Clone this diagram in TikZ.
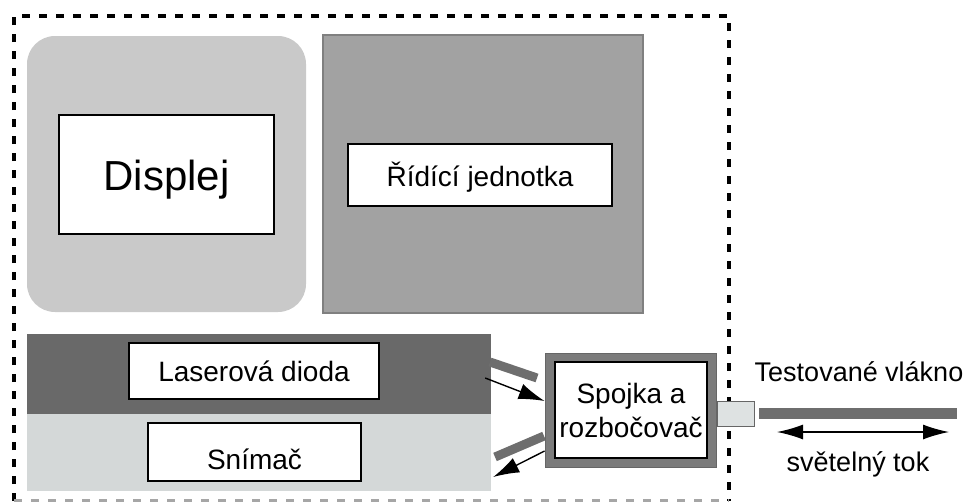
\documentclass[tikz,border=0pt]{standalone}
\usepackage{fontspec}
\setmainfont{Liberation Sans}
\usetikzlibrary{arrows.meta}
\definecolor{dispgray}{HTML}{C9C9C9}
\definecolor{ctrlgray}{HTML}{A2A2A2}
\definecolor{ctrledge}{HTML}{808080}
\definecolor{lasergray}{HTML}{696969}
\definecolor{sensgray}{HTML}{D4D8D8}
\definecolor{couplergray}{HTML}{7B7B7B}
\definecolor{fibergray}{HTML}{6E6E6E}
\definecolor{connfill}{HTML}{DEE2E2}
\begin{document}
\begin{tikzpicture}[x=1pt,y=-1pt,
  area/.style={draw=none, inner sep=0pt, anchor=center},
  namebox/.style={draw=black, line width=2.6pt, fill=white, inner sep=0pt, anchor=center,
    text depth=0pt, font=\fontsize{28}{34}\selectfont},
  fiberbar/.style={line width=9pt, draw=fibergray, line cap=butt},
  sig/.style={-{Latex[length=26pt,width=16pt]}, line width=1.4pt},
  dbl/.style={{Latex[length=26pt,width=15pt]}-{Latex[length=26pt,width=15pt]}, line width=1.4pt},
  caption/.style={anchor=base, inner sep=0pt, font=\fontsize{27}{32}\selectfont},
]
\useasboundingbox (0,0) rectangle (966,501);

% outer dashed enclosure
\draw[line width=4pt, dash pattern=on 8pt off 9pt] (14,501) -- (14,16) -- (729,16) -- (729,501);
\draw[line width=4pt, dash pattern=on 8pt off 9pt, black!35] (14,501) -- (729,501);

% display
\node[area, fill=dispgray, rounded corners=28pt, minimum width=279pt, minimum height=276pt] (dispbg) at (166.5,174) {};
\node[namebox, minimum width=215pt, minimum height=119pt, text height=31pt,
      font=\fontsize{42}{48}\selectfont] (disp) at (166.5,174.5) {Displej};

% control unit
\node[area, fill=ctrlgray, draw=ctrledge, line width=1.2pt, minimum width=320pt, minimum height=278pt] (ctrlbg) at (483,174) {};
\node[namebox, minimum width=264pt, minimum height=62pt, text height=23pt] (ctrl) at (480,175) {Řídící jednotka};

% laser and sensor strips
\node[area, fill=lasergray, minimum width=464pt, minimum height=80pt] (laserbg) at (259,374) {};
\node[area, fill=sensgray, minimum width=464pt, minimum height=77pt] (sensbg) at (259,452.5) {};
\node[namebox, minimum width=250pt, minimum height=56pt, text height=21pt] (laser) at (254,371) {Laserová dioda};
\node[namebox, minimum width=213pt, minimum height=58pt, text height=34pt] (sens) at (254.5,452) {Snímač};

% coupler / splitter
\node[area, fill=couplergray, draw=black!60, line width=0.8pt, minimum width=171pt, minimum height=114pt] (coupbg) at (630.5,410) {};
\node[namebox, minimum width=152pt, minimum height=96pt, align=center, text depth=, text height=] (coup) at (631,410) {Spojka a\\rozbočovač};

% fibre stubs at coupler
\coordinate (stubAa) at (490,362);
\coordinate (stubAb) at (537,378);
\coordinate (stubBa) at (495,457);
\coordinate (stubBb) at (544,436);
\draw[fiberbar] (stubAa) -- (stubAb);
\draw[fiberbar] (stubBa) -- (stubBb);

% signal arrows
\coordinate (lasout) at ([xshift=-6pt,yshift=-4pt]laserbg.east);
\coordinate (coupin) at ([yshift=9pt]coupbg.west);
\coordinate (coupout) at ([yshift=-41pt]coupbg.west);
\coordinate (sensin) at ([xshift=2pt,yshift=-24.5pt]sensbg.east);
\draw[sig] (lasout) -- (coupin);
\draw[sig] (coupout) -- (sensin);

% connector and test fibre
\node[area, fill=connfill, draw=black!60, line width=1pt, minimum width=37pt, minimum height=25pt] (conn) at (735.5,413.5) {};
\coordinate (fibA) at (759,413.5);
\coordinate (fibB) at (957,413.5);
\draw[line width=11pt, draw=fibergray] (fibA) -- (fibB);
\coordinate (flowA) at (777,432);
\coordinate (flowB) at (949,432);
\draw[dbl] (flowA) -- (flowB);

\node[caption] (fibtxt) at (859,381) {Testované vlákno};
\node[caption] (flowtxt) at (858,471) {světelný tok};
\end{tikzpicture}
\end{document}
